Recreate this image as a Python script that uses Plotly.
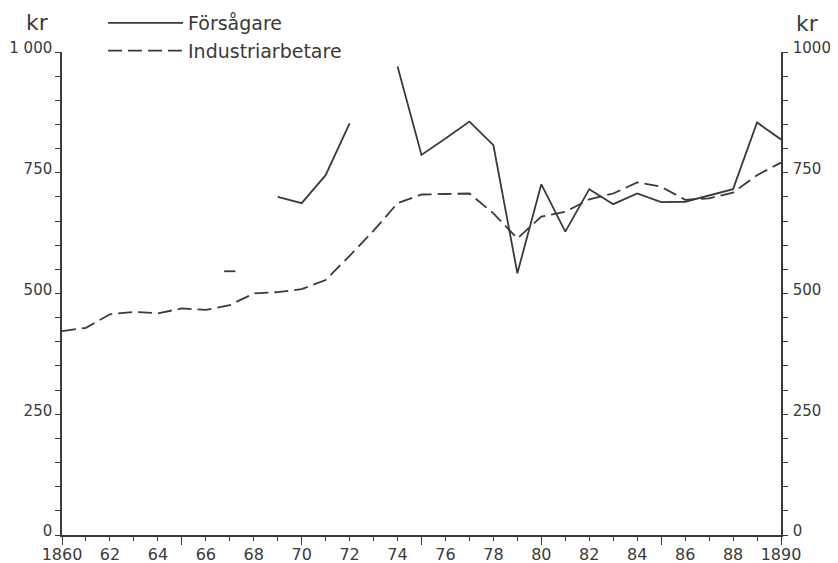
import plotly.graph_objects as go

years = list(range(1860, 1891))

forsagare = [None, None, None, None, None, None, None, 546, None, 700,
             687, 745, 852, None, 970, 787, 821, 856, 807, 542,
             726, 628, 716, 685, 707, 689, 690, 703, 716, 854, 819]

industri = [422, 429, 457, 462, 459, 469, 466, 476, 500, 503,
            509, 528, 578, 630, 687, 705, 706, 707, 666, 614,
            659, 669, 695, 707, 730, 721, 694, 697, 709, 745, 771]

x_label_vals = list(range(1860, 1891, 2))
x_label_text = ["1860"] + [str(y)[2:] for y in range(1862, 1890, 2)] + ["1890"]

y_tick_vals = list(range(0, 1001, 50))
y_left_text = {0: "0", 250: "250", 500: "500", 750: "750", 1000: "1 000"}
y_right_text = {0: "0", 250: "250", 500: "500", 750: "750", 1000: "1000"}

INK = "#3a3a3a"
FONT = "DejaVu Sans"

# isolated points (no neighbours) are drawn as a short horizontal dash
iso_x, iso_y = [], []
for i, v in enumerate(forsagare):
    prev_v = forsagare[i - 1] if i > 0 else None
    next_v = forsagare[i + 1] if i < len(forsagare) - 1 else None
    if v is not None and prev_v is None and next_v is None:
        iso_x.append(years[i])
        iso_y.append(v)

fig = go.Figure()
fig.add_trace(go.Scatter(
    x=years, y=forsagare, name="Försågare", mode="lines",
    line=dict(color=INK, width=1.8), connectgaps=False,
))
fig.add_trace(go.Scatter(
    x=iso_x, y=iso_y, mode="markers", showlegend=False,
    marker=dict(symbol="line-ew", size=8, color=INK,
                line=dict(color=INK, width=1.8)),
))
fig.add_trace(go.Scatter(
    x=years, y=industri, name="Industriarbetare", mode="lines",
    line=dict(color=INK, width=1.8, dash="14px,6px"),
))
# helper traces for right axis and major x ticks
fig.add_trace(go.Scatter(x=[years[0]], y=[None], yaxis="y2",
                         showlegend=False, hoverinfo="skip"))
fig.add_trace(go.Scatter(x=[years[0]], y=[None], xaxis="x2",
                         showlegend=False, hoverinfo="skip"))

# the page body has an 8px default margin, so the figure is sized to fit
fig.update_layout(
    width=830, height=555,
    margin=dict(l=54, r=57, t=44, b=28, autoexpand=False),
    paper_bgcolor="white", plot_bgcolor="white",
    font=dict(family=FONT, color=INK, size=16),
    showlegend=True,
    legend=dict(
        x=(103 - 62) / 719, y=(535 - 4) / 483, xanchor="left", yanchor="top",
        font=dict(size=19, color=INK, family=FONT),
        itemwidth=75, tracegroupgap=0, bgcolor="rgba(0,0,0,0)",
    ),
    xaxis=dict(
        range=[1860, 1890], showgrid=False, zeroline=False, automargin=False,
        showline=True, linecolor=INK, linewidth=1.5,
        tickmode="array", tickvals=x_label_vals, ticktext=x_label_text,
        ticks="outside", ticklen=4, tickwidth=1.3, tickcolor=INK,
        minor=dict(dtick=1, tick0=1860, ticks="outside", ticklen=4,
                   tickwidth=1.3, tickcolor=INK, showgrid=False),
        tickfont=dict(size=16, color=INK), ticklabelstandoff=0,
    ),
    xaxis2=dict(
        range=[1860, 1890], overlaying="x", showgrid=False, zeroline=False,
        showline=False, side="bottom", anchor="y", automargin=False,
        tickmode="linear", tick0=1860, dtick=5,
        ticks="outside", ticklen=9, tickwidth=1.3, tickcolor=INK,
        showticklabels=False,
    ),
    yaxis=dict(
        range=[0, 1000], showgrid=False, zeroline=False, automargin=False,
        showline=True, linecolor=INK, linewidth=1.5,
        tickmode="array", tickvals=y_tick_vals,
        ticktext=[y_left_text.get(v, "") for v in y_tick_vals],
        ticks="outside", ticklen=5, tickwidth=1.3, tickcolor=INK,
        ticklabelshift=-4, ticklabelstandoff=0,
        tickfont=dict(size=15, color=INK),
    ),
    yaxis2=dict(
        range=[0, 1000], overlaying="y", side="right", anchor="x",
        showgrid=False, zeroline=False, automargin=False,
        showline=True, linecolor=INK, linewidth=1.5,
        tickmode="array", tickvals=y_tick_vals,
        ticktext=[y_right_text.get(v, "") for v in y_tick_vals],
        ticks="outside", ticklen=5, tickwidth=1.3, tickcolor=INK,
        ticklabelshift=-4, ticklabelstandoff=2,
        tickfont=dict(size=15, color=INK),
    ),
    annotations=[
        dict(text="kr", xref="paper", yref="paper", x=(37 - 62) / 719,
             y=(535 - 22) / 483, showarrow=False, font=dict(size=22, color=INK),
             xanchor="center", yanchor="middle"),
        dict(text="kr", xref="paper", yref="paper", x=(807 - 62) / 719,
             y=(535 - 24) / 483, showarrow=False, font=dict(size=22, color=INK),
             xanchor="center", yanchor="middle"),
    ],
)

fig.write_html("out.html")
